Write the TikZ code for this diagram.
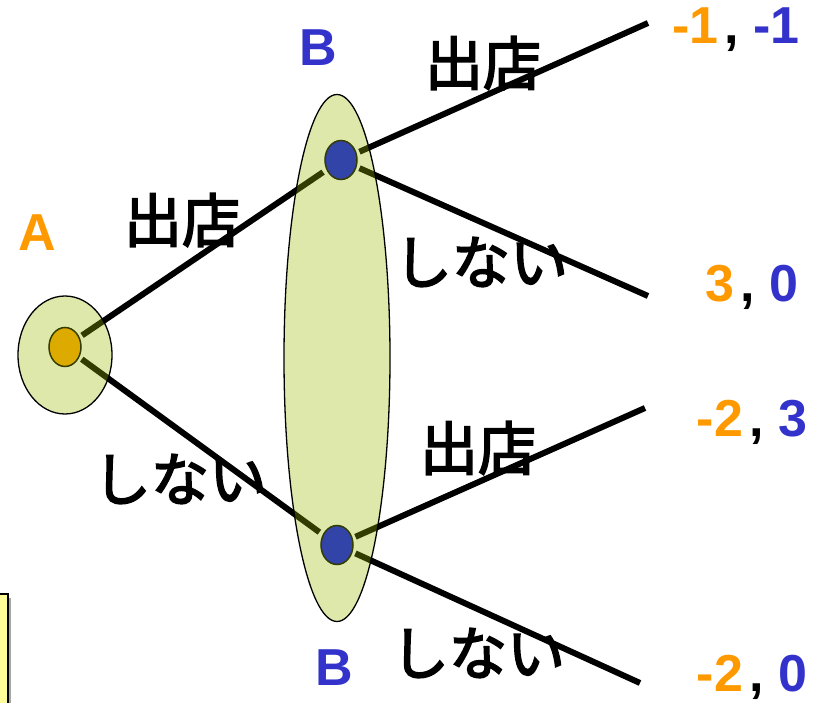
\documentclass[tikz,border=0pt]{standalone}
\usepackage{fontspec}
\setmainfont{Liberation Sans}
\newfontfamily\jp{Noto Sans CJK JP}[FakeBold=3]
\usetikzlibrary{shapes.geometric}
\pgfdeclarelayer{background}
\pgfsetlayers{background,main}
\definecolor{orangeA}{HTML}{FF9900}
\definecolor{blueB}{HTML}{3333CC}
\definecolor{nodeA}{HTML}{DDAA00}
\definecolor{nodeB}{HTML}{3344A8}
\definecolor{olive}{HTML}{333D00}
\definecolor{setgreen}{RGB}{155,185,0}
\definecolor{note}{HTML}{FFFF99}
\newcommand{\pay}[2]{\textcolor{orangeA}{#1}\hspace{6pt}, \textcolor{blueB}{#2}}
\begin{document}
\begin{tikzpicture}[
    x=1pt, y=-1pt,
    infoset/.style={ellipse, draw=black, line width=1.3pt, fill=setgreen, fill opacity=0.33, text opacity=1},
    decision/.style={ellipse, draw=olive, line width=1.5pt, minimum width=32pt, minimum height=39pt, inner sep=0pt},
    move/.style={font=\jp\fontsize{58}{62}\selectfont, inner sep=0pt},
    player/.style={font=\bfseries\fontsize{52}{56}\selectfont, inner sep=0pt},
    payoff/.style={font=\bfseries\fontsize{52}{56}\selectfont, inner sep=0pt},
    branch/.style={line width=6pt, shorten <=3pt}
]
  \useasboundingbox (0,0) rectangle (823,703);

  % note box at the lower left
  \fill[gray!70] (-5,598) rectangle (11,710);
  \draw[fill=note, line width=1.5pt] (-5,594) rectangle (8,710);

  % information sets
  \node[infoset, minimum width=94pt, minimum height=118pt] (SA) at (65,355) {};
  \node[infoset, minimum width=106pt, minimum height=527pt] (SB) at (337,358) {};

  % nodes
  \node[decision, fill=nodeA] (A)  at (65,347)  {};
  \node[decision, fill=nodeB] (B1) at (341,160) {};
  \node[decision, fill=nodeB] (B2) at (337,545) {};

  \coordinate (E1) at (648,23);
  \coordinate (E2) at (648,296);
  \coordinate (E3) at (645,408);
  \coordinate (E4) at (640,683);

  % edges
  \begin{pgfonlayer}{background}
    \draw[branch, shorten >=4pt] (A) -- (B1);
    \draw[branch, shorten >=4pt] (A) -- (B2);
    \draw[branch] (B1) -- (E1);
    \draw[branch] (B1) -- (E2);
    \draw[branch] (B2) -- (E3);
    \draw[branch] (B2) -- (E4);
  \end{pgfonlayer}

  % labels
  \node[player, orangeA] (LA)  at (37,233)  {A};
  \node[player, blueB]   (LB1) at (318,48)  {B};
  \node[player, blueB]   (LB2) at (334,668) {B};

  \node[move] (M1) at (182,220) {出店};
  \node[move] (M2) at (180,479) {しない};
  \node[move] (M3) at (483,63)  {出店};
  \node[move] (M4) at (481,262) {しない};
  \node[move] (M5) at (478,448) {出店};
  \node[move] (M6) at (478,653) {しない};

  % payoffs
  \node[payoff] (P1) at (736,30)  {\pay{-1}{-1}};
  \node[payoff] (P2) at (752,287) {\pay{3}{0}};
  \node[payoff] (P3) at (752,422) {\pay{-2}{3}};
  \node[payoff] (P4) at (752,677) {\pay{-2}{0}};
\end{tikzpicture}
\end{document}
